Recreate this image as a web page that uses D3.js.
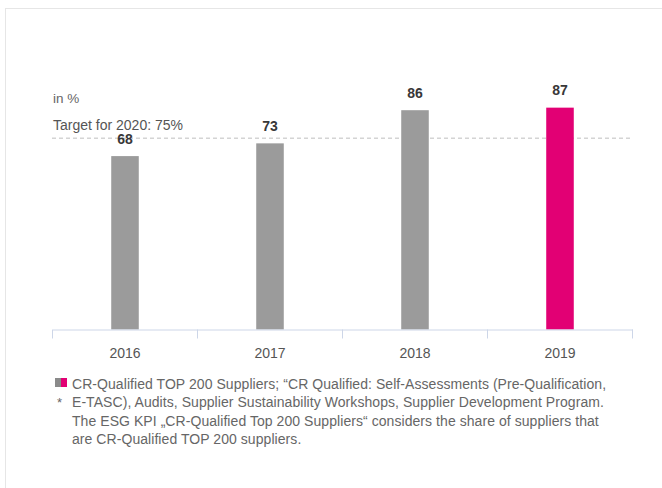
<!DOCTYPE html>
<html lang="en">
<head>
    <meta charset="utf-8">
    <title>CR-Qualified TOP 200 Suppliers</title>
    <script type="text/javascript" src="https://cdn.jsdelivr.net/npm/d3@7"></script>
    <style type="text/css">
        body { margin: 0; background: #fff; }
        svg { display: block; font-family: "Liberation Sans", Arial, sans-serif; }
    </style>
</head>
<body>
    <script type="text/javascript">
        // Data
        var years = ["2016", "2017", "2018", "2019"];
        var values = [68, 73, 86, 87];
        var target = 75;
        var notes = [
            "CR-Qualified TOP 200 Suppliers; \u201CCR Qualified: Self-Assessments (Pre-Qualification,",
            "E-TASC), Audits, Supplier Sustainability Workshops, Supplier Development Program.",
            "The ESG KPI \u201ECR-Qualified Top 200 Suppliers\u201C considers the share of suppliers that",
            "are CR-Qualified TOP 200 suppliers."
        ];

        var w = 662;
        var h = 488;
        var base = 329.5;

        var svg = d3.select("body")
            .append("svg")
            .attr("width", w)
            .attr("height", h);

        // Outer frame
        svg.append("rect")
            .attr("x", 5.5).attr("y", 8.5)
            .attr("width", 700).attr("height", 600)
            .attr("fill", "none")
            .attr("stroke", "#e6e6e6");

        var x = d3.scaleBand()
            .domain(years)
            .range([52.5, 632.5]);

        var y = d3.scaleLinear()
            .domain([0, 100])
            .range([base, base - 255]);

        var barW = x.bandwidth() * 0.19;

        // Unit label
        svg.append("text")
            .attr("x", 53).attr("y", 103)
            .attr("font-size", 13.5).attr("fill", "#666")
            .text("in %");

        // Target line
        svg.append("line")
            .attr("x1", 52).attr("x2", 632)
            .attr("y1", y(target)).attr("y2", y(target))
            .attr("stroke", "#d4d4d4")
            .attr("stroke-width", 1.5)
            .attr("stroke-dasharray", "4,3");

        svg.append("text")
            .attr("x", 53).attr("y", 130)
            .attr("font-size", 14).attr("fill", "#555")
            .text("Target for 2020: " + target + "%");

        // Bars
        svg.selectAll("rect.bar")
            .data(years)
            .enter()
            .append("rect")
            .attr("class", "bar")
            .attr("x", function(d) { return x(d) + (x.bandwidth() - barW) / 2; })
            .attr("y", function(d, i) { return y(values[i]); })
            .attr("width", barW)
            .attr("height", function(d, i) { return base - y(values[i]); })
            .attr("fill", function(d, i) { return i === years.length - 1 ? "#e20074" : "#9b9b9b"; });

        // Value labels
        svg.selectAll("text.val")
            .data(years)
            .enter()
            .append("text")
            .attr("class", "val")
            .attr("x", function(d) { return x(d) + x.bandwidth() / 2; })
            .attr("y", function(d, i) { return y(values[i]) - 12.5; })
            .attr("text-anchor", "middle")
            .attr("font-size", 14)
            .attr("font-weight", "bold")
            .attr("fill", "#383838")
            .text(function(d, i) { return values[i]; });

        // X axis
        var axis = svg.append("g")
            .attr("transform", "translate(0," + base + ")")
            .call(d3.axisBottom(x).tickSize(0).tickPadding(19));
        axis.select(".domain").attr("stroke", "#cdd6e8");
        axis.selectAll("text")
            .attr("font-size", 14)
            .attr("font-family", "Liberation Sans, Arial, sans-serif")
            .attr("fill", "#555");

        var edges = years.map(function(d) { return x(d); }).concat([x.range()[1]]);
        axis.selectAll("line.edge")
            .data(edges)
            .enter()
            .append("line")
            .attr("class", "edge")
            .attr("x1", function(d) { return d; })
            .attr("x2", function(d) { return d; })
            .attr("y1", 0).attr("y2", 9)
            .attr("stroke", "#cdd6e8");

        // Legend
        svg.append("rect")
            .attr("x", 55).attr("y", 378).attr("width", 6).attr("height", 9)
            .attr("fill", "#8a8a8a");
        svg.append("rect")
            .attr("x", 61).attr("y", 378).attr("width", 6).attr("height", 9)
            .attr("fill", "#e20074");
        svg.append("text")
            .attr("x", 57).attr("y", 407)
            .attr("font-size", 13).attr("fill", "#666")
            .text("*");

        svg.selectAll("text.note")
            .data(notes)
            .enter()
            .append("text")
            .attr("class", "note")
            .attr("x", 72)
            .attr("y", function(d, i) { return 389 + i * 18.3; })
            .attr("font-size", 14)
            .attr("letter-spacing", 0.06)
            .attr("fill", "#666")
            .text(function(d) { return d; });
    </script>
</body>
</html>
